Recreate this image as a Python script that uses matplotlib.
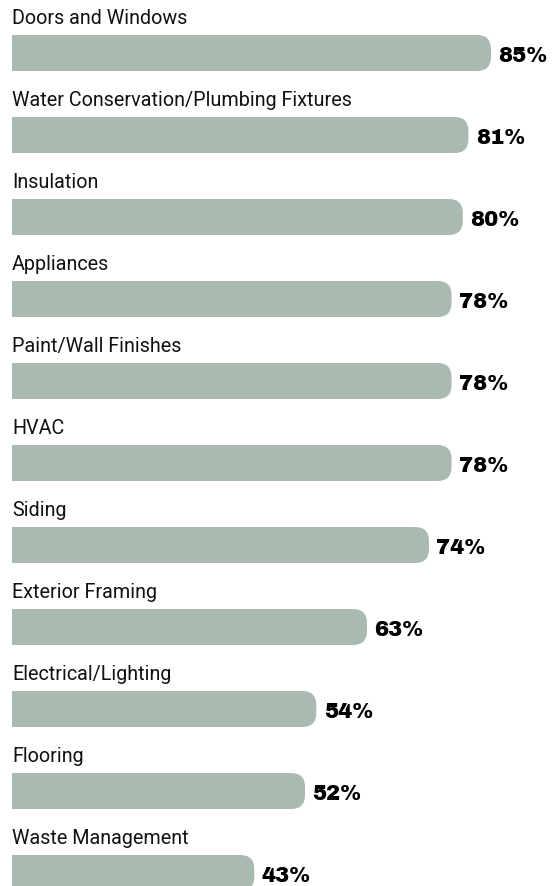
import matplotlib
matplotlib.use("Agg")
import matplotlib.pyplot as plt
from matplotlib.patches import FancyBboxPatch

categories = [
    "Doors and Windows",
    "Water Conservation/Plumbing Fixtures",
    "Insulation",
    "Appliances",
    "Paint/Wall Finishes",
    "HVAC",
    "Siding",
    "Exterior Framing",
    "Electrical/Lighting",
    "Flooring",
    "Waste Management",
]
values = [85, 81, 80, 78, 78, 78, 74, 63, 54, 52, 43]

BAR_COLOR = "#a9bbb1"
W, H = 554, 886
X0 = 12          # pixel where 0% sits
PX_PER_PCT = 5.635
ROW0 = 53        # pixel centre of first bar
ROW_STEP = 82
BAR_H_PX = 36
RADIUS_PX = 14

fig = plt.figure(figsize=(W / 100, H / 100), dpi=100)
ax = fig.add_axes([0, 0, 1, 1])
ax.set_xlim(-X0 / PX_PER_PCT, (W - X0) / PX_PER_PCT)
ax.set_ylim((H - ROW0) / ROW_STEP, -ROW0 / ROW_STEP)
ax.axis("off")

x_per_px = 1 / PX_PER_PCT
y_per_px = 1 / ROW_STEP
bar_h = BAR_H_PX * y_per_px

for i, (cat, val) in enumerate(zip(categories, values)):
    # rounded bar, then square off the left end
    patch = FancyBboxPatch(
        (0, i - bar_h / 2), val, bar_h,
        boxstyle=f"round,pad=0,rounding_size={RADIUS_PX * x_per_px}",
        mutation_aspect=y_per_px / x_per_px,
        facecolor=BAR_COLOR, edgecolor="none",
    )
    ax.add_patch(patch)
    ax.barh(i, val / 2, height=bar_h, left=0, color=BAR_COLOR, edgecolor="none")
    ax.text(0, i - 29 * y_per_px, cat, ha="left", va="baseline",
            fontsize=14.2, family=["Roboto", "DejaVu Sans"], color="#111111")
    ax.text(val + 7.5 * x_per_px, i + 8.7 * y_per_px, f"{val}%", ha="left", va="baseline",
            fontsize=15.2, family=["Archivo Black", "DejaVu Sans"], color="#000000")

fig.savefig("out.png", dpi=100, facecolor="white")
